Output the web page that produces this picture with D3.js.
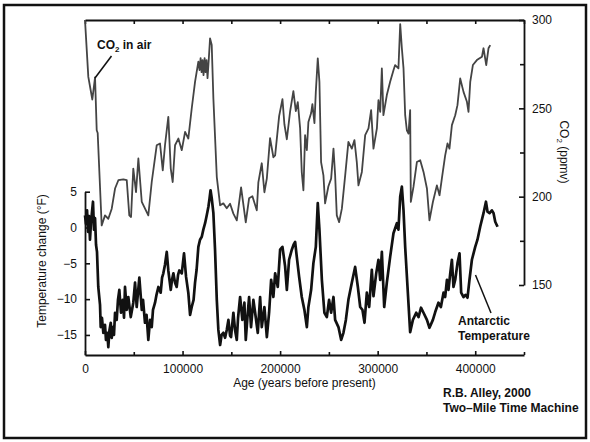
<!DOCTYPE html>
<html>
<head>
<meta charset="utf-8">
<script src="https://cdn.jsdelivr.net/npm/d3@7"></script>
<style>
  body { margin: 0; background: #fff; }
  svg text { font-family: "Liberation Sans", Arial, sans-serif; fill: #111; }
</style>
</head>
<body>
<script>
const W = 590, H = 442;

// CO2 in air (age in thousand years before present, ppmv)
const co2Age = [0, 3.4, 7.5, 10.3, 12.0, 13.0, 17.1, 20.5, 23.9, 27.4, 30.8, 34.2, 39.3, 42.8, 45.4, 47.2, 49.5, 52.3, 54.7, 58.2,
  64.9, 68.4, 73.5, 76.9, 79.7, 82.0, 85.4, 87.9, 89.9, 92.3, 95.7, 99.2, 102.6, 105.9, 109.4, 112.8, 116.2, 117.4, 118.5, 119.5,
  120.5, 121.5, 122.6, 123.6, 124.6, 125.6, 126.5, 128.2, 129.9, 131.6, 135.1, 138.5, 141.8, 145.3, 148.7, 152.1, 155.6, 160.0, 164.8, 168.2,
  171.6, 176.1, 177.7, 181.2, 183.9, 186.4, 189.7, 193.1, 194.9, 199.0, 202.4, 204.4, 206.9, 210.3, 213.6, 216.1, 218.1, 220.5, 222.2, 223.9,
  225.6, 227.4, 229.0, 231.8, 233.1, 235.2, 236.6, 238.6, 240.3, 242.0, 244.4, 246.1, 249.5, 252.3, 254.7, 256.4, 258.1, 260.5, 263.3, 266.7,
  270.0, 273.5, 276.2, 278.6, 280.3, 283.8, 287.2, 290.6, 293.3, 295.7, 299.2, 300.8, 302.6, 304.3, 305.9, 309.4, 312.8, 316.2, 317.9, 321.3,
  323.1, 324.8, 326.5, 328.2, 329.9, 331.6, 333.3, 334.0, 336.7, 340.2, 343.6, 347.0, 350.5, 353.1, 356.6, 360.7, 363.4, 365.8, 369.2, 371.6,
  373.6, 376.1, 379.5, 381.8, 384.6, 388.0, 391.5, 393.1, 394.9, 397.6, 401.7, 406.9, 408.5, 411.3, 413.6, 415.4];
const co2Ppm = [300, 267.8, 255, 267.5, 237.6, 236, 183.7, 189.4, 187.5, 193.2, 204.6, 209.3, 209.8, 209.3, 189.4, 188.5, 215.9, 202.6, 221.6, 197,
  189.4, 208.3, 229.1, 230.1, 214.9, 229.1, 245.2, 215.9, 208.3, 229.1, 232.9, 226.3, 236.7, 232.9, 249.9, 265, 276.4, 271.6, 278.4, 270.5,
  277.3, 268.8, 278.4, 270.5, 277.3, 267.1, 274.5, 289.6, 285.8, 255.6, 211.1, 195.1, 196.2, 193.4, 196, 190.4, 186.6, 205.3, 185.4, 199.1,
  200.2, 192.3, 208.1, 218.9, 202.5, 210.4, 233.1, 222.3, 223.4, 245.6, 255.2, 241, 232.5, 248.4, 259.7, 248.4, 253.5, 238.8, 213.8, 203.6,
  234.8, 226.3, 242.3, 247.3, 252.4, 241.6, 259.3, 278.3, 265, 219.6, 212.1, 196.2, 205.9, 210.2, 227.2, 212.1, 189.4, 185.6, 193.2, 212.1,
  231, 227.2, 232, 219.6, 206.4, 214, 234.8, 238.6, 249, 227.2, 238.6, 254.6, 248, 272.6, 246.1, 257.5, 265, 271.6, 274.5, 272.6,
  297.7, 284, 272.6, 246.1, 237.6, 235.7, 249, 197, 205.5, 219.6, 220.6, 214, 204.6, 186.6, 197, 206.4, 200.8, 210.2, 223.4, 230.1,
  227.2, 240.5, 246.1, 251.8, 266.9, 259.3, 253.7, 248, 265, 274.5, 277.3, 279.2, 284, 274.5, 284, 285.8];

// Antarctic temperature change (age in thousand years, degrees F)
const tAge = [0, 1.0, 2.1, 3.1, 4.1, 5.1, 6.2, 7.2, 8.2, 9.2, 10.3, 11.3, 12.3, 13.6, 15.4, 16.1, 17.4, 18.8, 20.5, 21.5,
  22.9, 23.9, 25.1, 26.4, 27.4, 28.4, 29.7, 30.8, 32.5, 33.8, 35.2, 36.9, 38.7, 40.0, 41.0, 42.8, 44.4, 46.9, 49.5, 51.3,
  53.0, 55.7, 58.2, 59.5, 61.5, 63.1, 64.9, 66.7, 68.4, 69.7, 71.8, 73.3, 75.2, 77.6, 79.0, 80.3, 82.0, 83.8, 85.4, 87.9,
  89.2, 90.6, 92.3, 94.0, 95.4, 96.7, 99.2, 101.5, 103.6, 105.9, 107.7, 109.4, 111.3, 112.8, 114.4, 116.2, 117.9, 119.7, 121.3, 123.1,
  124.8, 126.5, 127.7, 128.7, 129.9, 131.6, 133.3, 135.1, 136.7, 138.5, 140.0, 141.8, 143.6, 145.3, 147.0, 148.7, 149.7, 152.1, 153.8, 155.6,
  156.9, 159.0, 161.3, 163.4, 164.8, 166.7, 168.2, 170.2, 172.6, 174.4, 177.1, 179.5, 181.2, 183.9, 186.4, 188.7, 190.8, 193.1, 194.9, 197.6,
  200.0, 202.4, 205.1, 206.9, 209.2, 212.0, 213.8, 215.4, 217.1, 219.5, 222.2, 224.9, 227.4, 229.0, 231.8, 234.1, 236.6, 238.6, 240.3, 242.8,
  245.4, 247.9, 250.2, 252.3, 254.7, 256.4, 259.8, 262.6, 264.9, 267.4, 270.0, 273.5, 276.9, 279.7, 282.1, 284.4, 286.5, 288.9, 291.3, 294.0,
  295.7, 298.5, 300.8, 302.6, 304.3, 306.7, 309.4, 312.8, 316.2, 319.7, 321.3, 323.1, 324.8, 326.5, 328.2, 330.6, 333.3, 336.1, 339.5, 341.9,
  344.4, 347.0, 350.5, 353.1, 356.6, 359.0, 362.3, 364.8, 367.5, 369.2, 371.0, 372.6, 374.4, 376.1, 377.7, 379.5, 381.8, 383.9, 385.6, 388.0,
  390.0, 392.1, 394.1, 396.6, 400.0, 402.3, 405.1, 408.5, 411.0, 412.6, 414.7, 417.1, 418.8, 420.5, 422.9];
const tVal = [1.7, 0.5, 2.4, -0.6, 1.6, -1.7, 0.8, 2.2, 3.6, -0.3, 1.3, -2.4, -3.4, -8.3, -10.8, -13.9, -12.6, -14.7, -13.6, -15.7,
  -14.7, -16.7, -14.3, -13.3, -15.4, -13.9, -15, -11.9, -12.9, -10.1, -8.7, -11.9, -10.1, -12.6, -8.3, -11.5, -9.7, -12.5, -10.5, -7.7,
  -11.1, -7.0, -11.5, -10.1, -13.3, -12.2, -15.7, -12.9, -13.9, -11.5, -10.5, -9.4, -8.3, -9.1, -7.0, -6.4, -5.2, -3.4, -6.0, -8.7,
  -7.3, -6.4, -7.7, -8.3, -6.6, -6.0, -6.4, -3.6, -6.9, -9.1, -12.2, -11.1, -10.1, -7.7, -5.9, -2.7, -1.7, -1.3, -0.3, 0.6,
  1.7, 2.9, 4.1, 5.2, 4.1, 2.0, -3.1, -10.1, -14.3, -16.4, -15, -14.7, -15.4, -14.3, -12.9, -15.1, -15.3, -11.9, -14.3, -15.7,
  -12.6, -9.7, -12.9, -10.5, -15.7, -12.2, -9.7, -13.9, -10.1, -11.9, -14.7, -9.7, -13.9, -11.1, -15.3, -11.9, -7.3, -9.7, -6.4, -8.3,
  -3.1, -2.7, -5.4, -8.7, -4.5, -3.1, -2.4, -2.0, -4.1, -6.9, -9.7, -11.5, -13.9, -11.1, -8.7, -5.0, -2.7, 3.4, -0.3, -7.3,
  -11.9, -12.5, -10.1, -11.9, -9.7, -12.9, -13.9, -15.7, -14.7, -12.9, -10.1, -7.7, -5.5, -8.3, -11.1, -11.5, -13.3, -9.1, -11.1, -5.9,
  -9.6, -6.4, -4.5, -7.3, -3.4, -11.1, -7.7, -4.1, -0.8, 0.6, -0.3, 4.3, 5.7, 2.4, -2.7, -8.3, -14.6, -12.9, -11.9, -12.5,
  -11.2, -11.9, -12.9, -14.0, -12.9, -11.8, -10.5, -11.1, -9.1, -9.7, -7.3, -8.7, -6.4, -4.5, -8.3, -7.3, -5.0, -3.6, -9.1, -9.7,
  -9.4, -9.8, -7.3, -4.5, -2.7, -1.7, 0.1, 2.0, 3.6, 2.2, 2.0, 2.4, 2.0, 0.8, 0.1];

const ageTicks = [0, 100, 200, 300, 400];
const ageMinor = [50, 150, 250, 350, 450];
const tempTicks = [5, 0, -5, -10, -15];
const co2Ticks = [300, 250, 200, 150];
const co2Minor = [275, 225, 175];

const svg = d3.select("body").append("svg")
  .attr("width", W).attr("height", H);

// outer frame
svg.append("rect")
  .attr("x", 4).attr("y", 5).attr("width", 582).attr("height", 433)
  .attr("fill", "none").attr("stroke", "#111").attr("stroke-width", 2.5);

const x = d3.scaleLinear().domain([0, 450]).range([85, 524]);
const yT = d3.scaleLinear().domain([-17.8, 5]).range([355, 191.7]);
const yC = d3.scaleLinear().domain([150, 300]).range([285, 20]);

function styleAxis(g) {
  g.selectAll("path.domain").attr("stroke", "#111").attr("stroke-width", 1.8);
  g.selectAll(".tick line").attr("stroke", "#111").attr("stroke-width", 1.6);
  g.selectAll(".tick text").attr("font-size", 12).attr("fill", "#111")
    .attr("font-family", "'Liberation Sans', Arial, sans-serif");
}

// bottom axis
const gb = svg.append("g").attr("transform", "translate(0,355)")
  .call(d3.axisBottom(x).tickValues(ageTicks).tickSizeInner(-4).tickSizeOuter(0)
    .tickPadding(9).tickFormat(d => d * 1000));
gb.call(styleAxis);
gb.selectAll(".tick text").attr("dy", "0.71em");
svg.append("g").attr("transform", "translate(0,355)")
  .call(d3.axisBottom(x).tickValues(ageMinor).tickSizeInner(-3).tickSizeOuter(0).tickFormat(""))
  .call(styleAxis).select("path.domain").remove();

// top axis (no labels)
svg.append("g").attr("transform", "translate(0,20)")
  .call(d3.axisTop(x).tickValues(ageTicks.concat(ageMinor)).tickSizeInner(-4).tickSizeOuter(0).tickFormat(""))
  .call(styleAxis);

// left temperature axis
svg.append("g").attr("transform", "translate(85,0)")
  .call(d3.axisLeft(yT).tickValues(tempTicks).tickSizeInner(-5).tickSizeOuter(0).tickPadding(8)
    .tickFormat(d => d < 0 ? "\u2212" + Math.abs(d) : d))
  .call(styleAxis);

// right CO2 axis
svg.append("g").attr("transform", "translate(524,0)")
  .call(d3.axisRight(yC).tickValues(co2Ticks).tickSizeInner(-5).tickSizeOuter(0).tickPadding(8))
  .call(styleAxis);
svg.append("g").attr("transform", "translate(524,0)")
  .call(d3.axisRight(yC).tickValues(co2Minor).tickSizeInner(-4).tickSizeOuter(0).tickFormat(""))
  .call(styleAxis).select("path.domain").remove();

// curves
const co2Data = co2Age.map((a, i) => [a, co2Ppm[i]]);
const tData = tAge.map((a, i) => [a, tVal[i]]);

svg.append("path").datum(co2Data)
  .attr("fill", "none").attr("stroke", "#444").attr("stroke-width", 1.8)
  .attr("stroke-linejoin", "round")
  .attr("d", d3.line().x(d => x(d[0])).y(d => yC(d[1])));

svg.append("path").datum(tData)
  .attr("fill", "none").attr("stroke", "#111").attr("stroke-width", 2.7)
  .attr("stroke-linejoin", "round")
  .attr("d", d3.line().x(d => x(d[0])).y(d => yT(d[1])));

// axis titles
svg.append("text")
  .attr("transform", "translate(46,261) rotate(-90)")
  .attr("text-anchor", "middle").attr("font-size", 12)
  .text("Temperature change (\u00B0F)");

const co2Title = svg.append("text")
  .attr("transform", "translate(560,152) rotate(90)")
  .attr("text-anchor", "middle").attr("font-size", 12);
co2Title.append("tspan").text("CO");
co2Title.append("tspan").attr("font-size", 8).attr("dy", 3).text("2");
co2Title.append("tspan").attr("dy", -3).text(" (ppmv)");

svg.append("text")
  .attr("x", 304.5).attr("y", 387).attr("text-anchor", "middle").attr("font-size", 12)
  .text("Age (years before present)");

// annotations
const co2Lab = svg.append("text").attr("x", 97).attr("y", 49)
  .attr("font-size", 12).attr("font-weight", "bold");
co2Lab.append("tspan").text("CO");
co2Lab.append("tspan").attr("font-size", 8).attr("dy", 3).text("2");
co2Lab.append("tspan").attr("dy", -3).text(" in air");
svg.append("line").attr("x1", 111.5).attr("y1", 56).attr("x2", 95).attr("y2", 78)
  .attr("stroke", "#111").attr("stroke-width", 1.5);

svg.append("text").attr("x", 458).attr("y", 325)
  .attr("font-size", 12).attr("font-weight", "bold").text("Antarctic");
svg.append("text").attr("x", 458).attr("y", 340)
  .attr("font-size", 12).attr("font-weight", "bold").text("Temperature");
svg.append("line").attr("x1", 475.5).attr("y1", 275).attr("x2", 491).attr("y2", 313)
  .attr("stroke", "#111").attr("stroke-width", 1.5);

svg.append("text").attr("x", 443).attr("y", 397)
  .attr("font-size", 12).attr("font-weight", "bold").text("R.B. Alley, 2000");
svg.append("text").attr("x", 443).attr("y", 411.5)
  .attr("font-size", 12).attr("font-weight", "bold").text("Two\u2013Mile Time Machine");
</script>
</body>
</html>
